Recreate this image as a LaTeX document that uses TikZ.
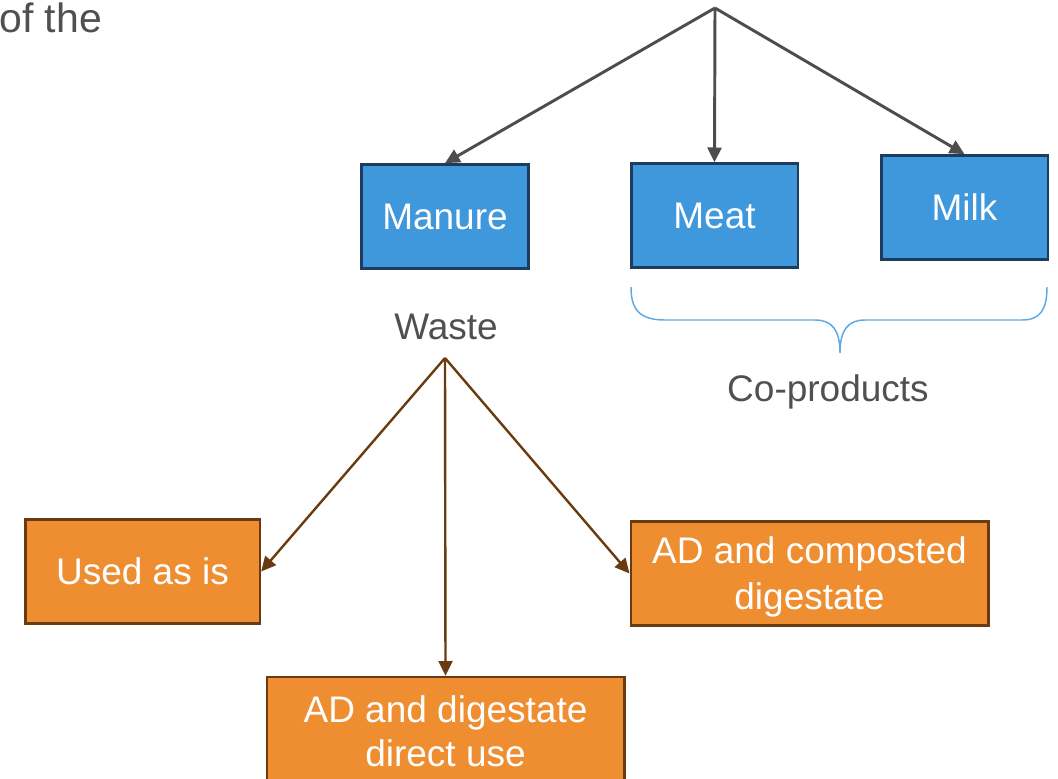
\documentclass[tikz,border=0pt]{standalone}
\usepackage{fontspec}
\setmainfont{Liberation Sans}
\usetikzlibrary{arrows.meta}
\definecolor{boxblue}{HTML}{3E98DB}
\definecolor{blueedge}{HTML}{1C3D5E}
\definecolor{boxorange}{HTML}{EE8E31}
\definecolor{brownedge}{HTML}{6A3B10}
\definecolor{greyline}{HTML}{4D4D4D}
\definecolor{greytext}{HTML}{505050}
\definecolor{bracecol}{HTML}{5DA9E4}
\begin{document}
\begin{tikzpicture}[x=0.75pt,y=-0.75pt,
  every node/.style={font=\fontsize{27.75}{33.3}\selectfont, inner sep=0pt},
  bluebox/.style={draw=blueedge, line width=2pt, fill=boxblue, text=white,
    minimum width=125pt, minimum height=78pt},
  orangebox/.style={draw=brownedge, line width=2pt, fill=boxorange, text=white,
    align=center, minimum height=78pt},
  label/.style={text=greytext},
  greyarrow/.style={draw=greyline, line width=2.2pt, -{Triangle[length=11pt,width=10.5pt]}},
  brownarrow/.style={draw=brownedge, line width=1.8pt, -{Triangle[length=11pt,width=10.5pt]}}
]
\useasboundingbox (0,0) rectangle (1058,779);

% caption fragment at the top left
\node[label, anchor=base west, font=\fontsize{30.75}{36}\selectfont] (caption) at (-1,32) {of the};

% livestock outputs
\coordinate (source) at (715,8);
\node[bluebox] (manure) at (445,216.5) {Manure};
\node[bluebox] (meat) at (714.5,215.5) {Meat};
\node[bluebox] (milk) at (964.5,207.5) {Milk};

\draw[greyarrow] (source) -- (manure.north);
\draw[greyarrow] (source) -- (meat.north);
\draw[greyarrow] (source) -- (milk.north);

% brace grouping the co-products
\draw[bracecol, line width=1.1pt]
  (631,287) .. controls (631,310) and (640,320) .. (665,320) -- (815,320)
  .. controls (832,320) and (840,330) .. (840,353)
  .. controls (840,330) and (848,320) .. (865,320) -- (1022,320)
  .. controls (1040,320) and (1047,310) .. (1047,287);
\node[label] (coproducts) at (828,392) {Co-products};

% waste pathways
\node[label] (waste) at (446,327) {Waste};
\coordinate (wastesplit) at (445,358);

\node[orangebox, minimum width=176pt] (asis) at (142.5,571.5) {Used as is};
\node[orangebox, minimum width=268pt, font=\fontsize{27.75}{34.5}\selectfont]
  (composted) at (809.5,573.5) {\rule{0pt}{25pt}AD and composted\\digestate};
\node[orangebox, minimum width=268pt, minimum height=81pt] (direct) at (445.5,731) {AD and digestate\\direct use};

\draw[brownarrow] (wastesplit) -- (asis.east);
\draw[brownarrow] (wastesplit) -- (direct.north);
\draw[brownarrow] (wastesplit) -- (composted.west);
\end{tikzpicture}
\end{document}
